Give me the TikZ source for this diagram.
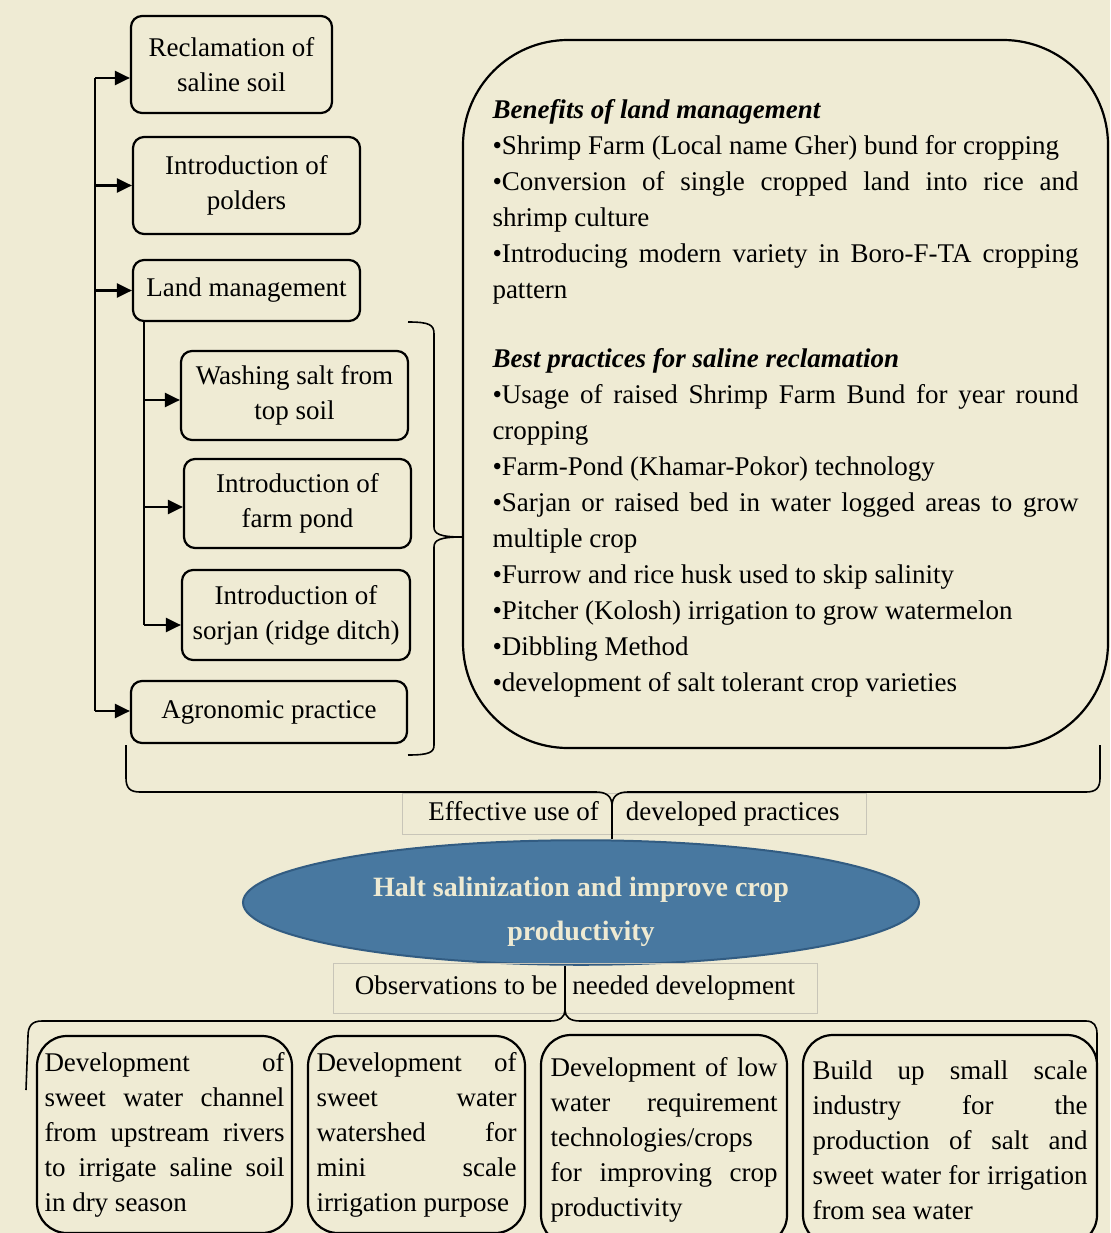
\documentclass[tikz,border=0pt]{standalone}
\usepackage{fontspec}
\setmainfont{Liberation Serif}
\usetikzlibrary{arrows.meta,shapes.geometric}

\setlength{\parindent}{0pt}
\hyphenpenalty=10000
\exhyphenpenalty=10000
\hbadness=10000
\tolerance=10000

\definecolor{paper}{RGB}{239,235,212}
\definecolor{goalblue}{RGB}{72,120,160}
\definecolor{goalrim}{RGB}{50,92,130}
\definecolor{goaltext}{RGB}{238,234,210}
\definecolor{tagrim}{RGB}{200,197,184}

\tikzset{
	stepbox/.style={draw, line width=2.2pt, rounded corners=11pt, align=center, inner sep=0pt,
		font=\fontsize{27}{35}\selectfont},
	devbox/.style={draw, line width=2.2pt, rounded corners=30pt, inner sep=0pt, align=justify,
		font=\fontsize{27}{35}\selectfont},
	tagbox/.style={draw=tagrim, line width=1pt, inner sep=0pt, font=\fontsize{27}{35}\selectfont},
	feed/.style={line width=2.2pt, -{Triangle[length=15pt,width=14pt]}},
	brace/.style={line width=1.6pt},
}

\begin{document}
\begin{tikzpicture}[x=1pt, y=-1pt]
	\useasboundingbox (0,0) rectangle (1110,1233);
	\fill[paper] (0,0) rectangle (1110,1233);

	% options on the left
	\node[stepbox, minimum width=201pt, minimum height=97pt] (r1) at (231.5,64.5) {Reclamation of\\saline soil};
	\node[stepbox, minimum width=227pt, minimum height=97pt] (r2) at (246.5,185.5) {Introduction of\\polders};
	\node[stepbox, minimum width=227pt, minimum height=61pt] (r3) at (246.5,290.5) {Land management};
	\node[stepbox, minimum width=227pt, minimum height=89pt] (r4) at (294.5,395.5) {Washing salt from\\top soil};
	\node[stepbox, minimum width=227pt, minimum height=89pt] (r5) at (297.5,503.5) {Introduction of\\farm pond};
	\node[stepbox, minimum width=228pt, minimum height=90pt] (r6) at (296,615) {Introduction of\\sorjan (ridge ditch)};
	\node[stepbox, minimum width=276pt, minimum height=62pt] (r7) at (269,712) {Agronomic practice};

	\coordinate (spine) at (95,78);
	\coordinate (spineend) at (95,711);
	\coordinate (sub) at (144,625);
	\draw[line width=2.2pt] (spine) -- (spineend);
	\draw[feed] (spine) -- (spine -| r1.west);
	\draw[feed] (spine |- r2.west) -- (r2.west);
	\draw[feed] (spine |- r3.west) -- (r3.west);
	\draw[feed] (spineend) -- (spineend -| r7.west);
	\draw[line width=2.2pt] (sub |- r3.south) -- (sub);
	\draw[feed] (sub |- 0,400) -- (r4.west |- 0,400);
	\draw[feed] (sub |- 0,507) -- (r5.west |- 0,507);
	\draw[feed] (sub) -- (sub -| r6.west);

	% benefits and best practices
	\node[draw, line width=2.2pt, rounded corners=105pt, minimum width=645pt, minimum height=708pt,
		inner sep=0pt, text width=586pt, align=justify, font=\fontsize{27}{36}\selectfont]
		(benefits) at (785.5,394) {%
		\rule{0pt}{28pt}\textbf{\textit{Benefits of land management}}\par
		•Shrimp Farm (Local name Gher) bund for cropping\par
		•Conversion of single cropped land into rice and\linebreak shrimp culture\par
		•Introducing modern variety in Boro-F-TA cropping\linebreak pattern\par
		\vspace{33pt}
		\textbf{\textit{Best practices for saline reclamation}}\par
		•Usage of raised Shrimp Farm Bund for year round\linebreak cropping\par
		•Farm-Pond (Khamar-Pokor) technology\par
		•Sarjan or raised bed in water logged areas to grow\linebreak multiple crop\par
		•Furrow and rice husk used to skip salinity\par
		•Pitcher (Kolosh) irrigation to grow watermelon\par
		•Dibbling Method\par
		•development of salt tolerant crop varieties};

	\coordinate (group) at (462,537);
	\draw[brace] (408,322) .. controls (430,322) and (434,325) .. (434,334) -- (434,527)
		.. controls (434,534) and (440,537) .. (group);
	\draw[brace] (group) .. controls (440,537) and (434,540) .. (434,547) -- (434,745)
		.. controls (434,752) and (430,755) .. (408,755);

	% goal
	\node[tagbox, minimum width=464pt, minimum height=41pt] (use) at (634,813.5)
		{Effective use of\hspace{27pt}developed practices};
	\node[ellipse, draw=goalrim, line width=2pt, fill=goalblue, minimum width=676pt, minimum height=119pt,
		inner sep=0pt, align=center, text=goaltext, font=\fontsize{28}{44}\selectfont\bfseries]
		(goal) at (581,902.5) {\rule{0pt}{38pt}Halt salinization and improve crop\\productivity};
	\node[tagbox, minimum width=484pt, minimum height=50pt] (obs) at (575,988)
		{Observations to be\hspace{15pt}needed development};

	\coordinate (tipA) at (612,806);
	\draw[brace] (126,745) -- (126,778) .. controls (126,788) and (130,792) .. (140,792) -- (596,792)
		.. controls (606,792) and (612,796) .. (tipA);
	\draw[brace] (tipA) .. controls (612,796) and (618,792) .. (628,792) -- (1086,792)
		.. controls (1096,792) and (1100,788) .. (1100,778) -- (1100,745);
	\draw[brace] (tipA) -- (tipA |- goal.north);

	\coordinate (tipB) at (565,1010);
	\draw[brace] (tipB |- goal.south) -- (tipB);
	\draw[brace] (tipB) .. controls (565,1017) and (560,1021) .. (550,1021) -- (42,1021)
		.. controls (32,1021) and (28,1026) .. (28,1036) -- (26,1090);
	\draw[brace] (tipB) .. controls (565,1017) and (570,1021) .. (580,1021) -- (1086,1021)
		.. controls (1094,1021) and (1097,1026) .. (1097,1034) -- (1097,1092);

	% needed developments
	\node[devbox, minimum width=255pt, minimum height=197pt, text width=240pt] (d1) at (164.5,1134.5)
		{Development of\linebreak sweet water channel\linebreak from upstream rivers\linebreak to irrigate saline soil\linebreak in dry season};
	\node[devbox, minimum width=217pt, minimum height=197pt, text width=200pt] (d2) at (416.5,1134.5)
		{Development of\linebreak sweet water\linebreak watershed for\linebreak mini scale\linebreak irrigation purpose};
	\node[devbox, minimum width=246pt, minimum height=210pt, text width=227pt] (d3) at (664,1140)
		{Development of low\linebreak water requirement\linebreak technologies/crops\linebreak for improving crop\linebreak productivity};
	\node[devbox, minimum width=294pt, minimum height=210pt, text width=275pt] (d4) at (950,1140)
		{Build up small scale\linebreak industry for the\linebreak production of salt and\linebreak sweet water for irrigation\linebreak from sea water};
\end{tikzpicture}
\end{document}
